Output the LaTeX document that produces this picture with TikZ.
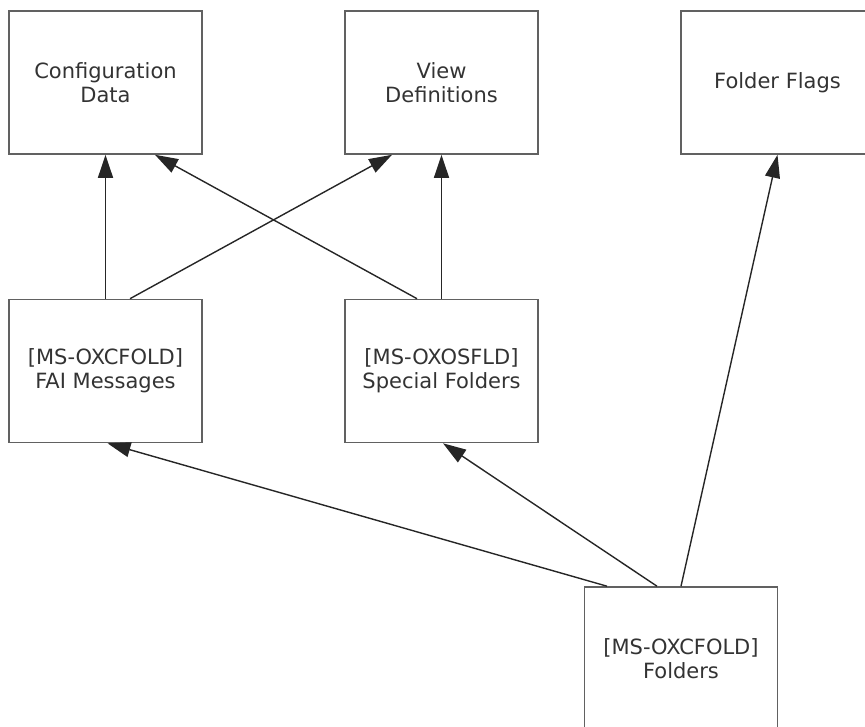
\documentclass[tikz,border=0pt]{standalone}
\usepackage{fontspec}
\setmainfont{DejaVu Sans}
\usetikzlibrary{arrows.meta}
\tikzstyle{bx}=[rectangle,draw=black!62,line width=1.6pt,minimum width=193pt,minimum height=143pt,inner sep=0pt,align=center,text=black!80,font=\fontsize{21}{24}\selectfont]
\tikzstyle{ar}=[-{Triangle[length=23pt,width=15pt]},line width=1.4pt,color=black!85]

\begin{document}
\begin{tikzpicture}[x=1pt,y=-1pt]
\useasboundingbox (0,0) rectangle (865,727);
% top row
\node[bx] (cfg) at (105.5,82.5) {Configuration\\Data};
\node[bx] (view) at (441.5,82.5) {View\\Definitions};
\node[bx] (flags) at (777.5,82.5) {Folder Flags};
% middle row
\node[bx] (fai) at (105.5,371) {[MS-OXCFOLD]\\FAI Messages};
\node[bx] (spec) at (441.5,371) {[MS-OXOSFLD]\\Special Folders};
% bottom
\node[bx] (fold) at (681,658.5) {[MS-OXCFOLD]\\Folders};
\draw[ar] (fai.north) -- (cfg.south);
\draw[ar] ([xshift=24.5pt]fai.north) -- ([xshift=-49.5pt]view.south);
\draw[ar] ([xshift=-24.5pt]spec.north) -- ([xshift=49.5pt]cfg.south);
\draw[ar] (spec.north) -- (view.south);
\draw[ar] ([xshift=-74pt]fold.north) -- ([xshift=2pt]fai.south);
\draw[ar] ([xshift=-24pt]fold.north) -- ([xshift=1.5pt]spec.south);
\draw[ar] (fold.north) -- (flags.south);
\end{tikzpicture}
\end{document}
